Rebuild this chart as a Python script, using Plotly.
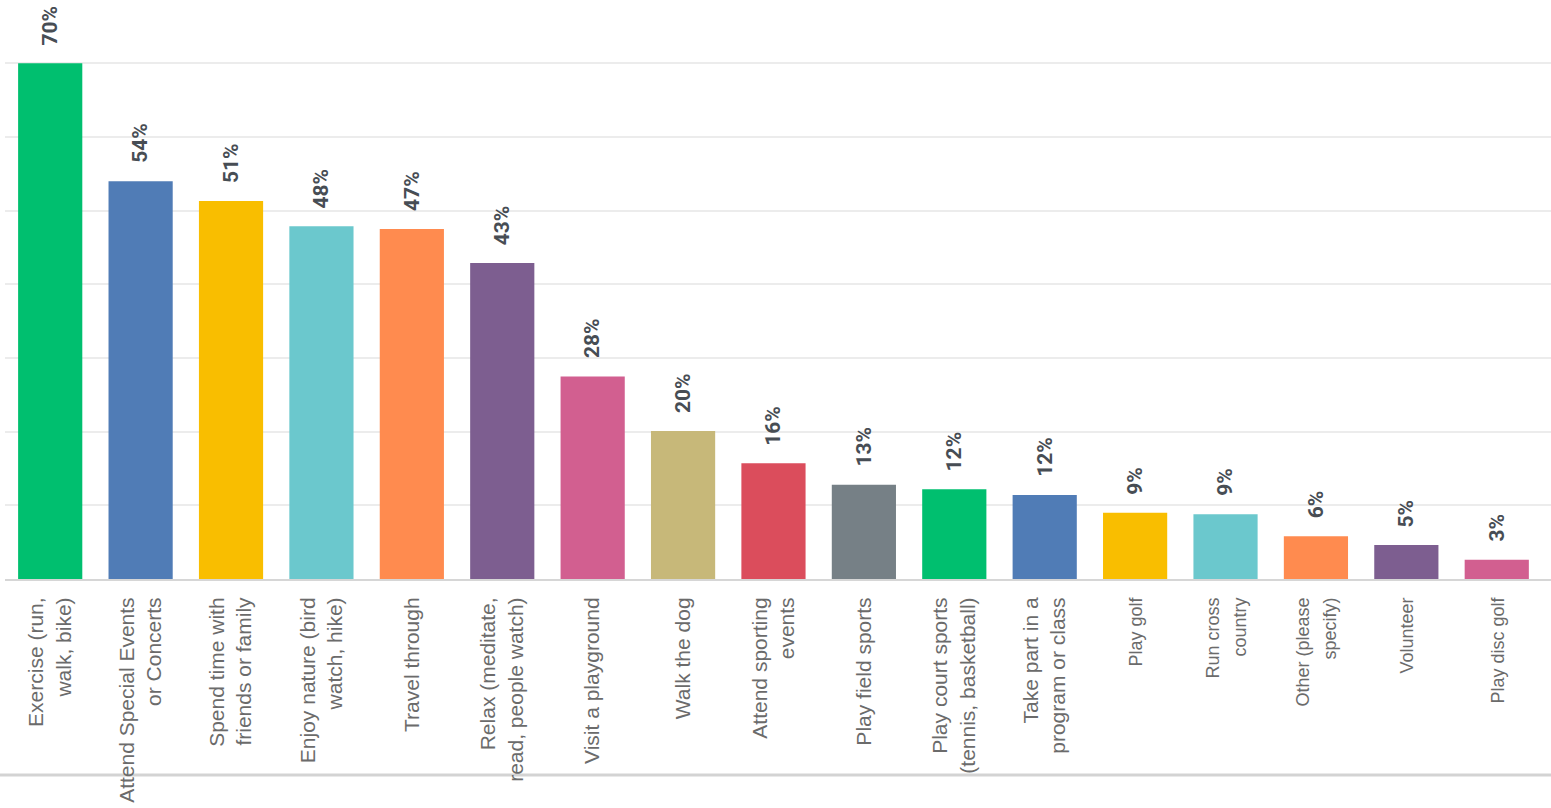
import plotly.graph_objects as go

categories = [
    "Exercise (run,<br>walk, bike)",
    "Attend Special Events<br>or Concerts",
    "Spend time with<br>friends or family",
    "Enjoy nature (bird<br>watch, hike)",
    "Travel through",
    "Relax (meditate,<br>read, people watch)",
    "Visit a playground",
    "Walk the dog",
    "Attend sporting<br>events",
    "Play field sports",
    "Play court sports<br>(tennis, basketball)",
    "Take part in a<br>program or class",
    "Play golf",
    "Run cross<br>country",
    "Other (please<br>specify)",
    "Volunteer",
    "Play disc golf",
]
values = [70, 54, 51.3, 47.9, 47.5, 42.9, 27.5, 20.1, 15.7, 12.8, 12.2, 11.4, 9.0, 8.8, 5.8, 4.6, 2.6]
value_labels = ["70%", "54%", "51%", "48%", "47%", "43%", "28%", "20%", "16%", "13%",
                "12%", "12%", "9%", "9%", "6%", "5%", "3%"]
colors = ["#00BF6F", "#507CB6", "#F9BE00", "#6BC8CD", "#FF8B4F", "#7D5E90", "#D25F90",
          "#C7B879", "#DB4D5C", "#768086", "#00BF6F", "#507CB6", "#F9BE00", "#6BC8CD",
          "#FF8B4F", "#7D5E90", "#D25F90"]
small_label_from = 12  # later labels are drawn smaller in the reference

x_idx = list(range(len(categories)))
tick_text = [c if i < small_label_from else f'<span style="font-size:18px">{c}</span>'
             for i, c in enumerate(categories)]

fig = go.Figure(go.Bar(
    x=x_idx, y=values,
    marker=dict(color=colors, line=dict(width=0)),
    hoverinfo="skip",
))

for i, (v, t) in enumerate(zip(values, value_labels)):
    fig.add_annotation(
        x=i, y=v, text=f"<b>{t}</b>", textangle=-90, showarrow=False,
        xanchor="center", yanchor="bottom", yshift=16,
        font=dict(family="Roboto, sans-serif", size=21, color="#474d54"),
    )

fig.add_shape(type="line", xref="paper", yref="paper", x0=-0.01, x1=1.0, y0=-0.3385, y1=-0.3385,
              line=dict(color="#d3d3d3", width=3), layer="below")

fig.update_layout(
    width=1551, height=808,
    margin=dict(l=5, r=0, t=0, b=229),
    paper_bgcolor="white", plot_bgcolor="white",
    bargap=0.29, showlegend=False,
    xaxis=dict(
        tickmode="array", tickvals=x_idx, ticktext=tick_text,
        tickangle=-90, range=[-0.5, 16.6],
        tickfont=dict(family="Liberation Sans, Arial, sans-serif", size=21, color="#6b6b6b"),
        showline=True, linecolor="#d6d6d6", linewidth=2,
        ticks="", ticklabelstandoff=8, showgrid=False, zeroline=False,
    ),
    yaxis=dict(
        range=[0, 78.6], dtick=10, showticklabels=False,
        showgrid=True, gridcolor="#ececec", gridwidth=1.5, zeroline=False,
    ),
)

fig.write_html("out.html", config={"displayModeBar": False},
               post_script="document.body.style.margin='0';")
